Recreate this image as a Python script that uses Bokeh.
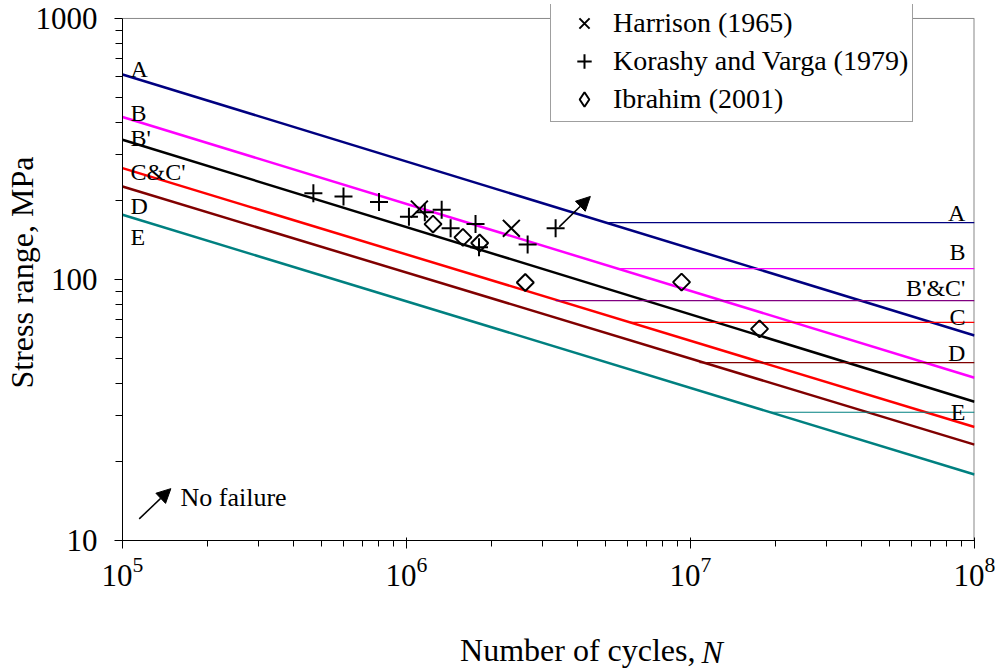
import math
from bokeh.plotting import figure
from bokeh.models import (Legend, LegendItem, Label, Arrow, NormalHead,
                          LogTickFormatter, Range1d, FixedTicker)
from bokeh.core.properties import value
from bokeh.embed import file_html
from bokeh.resources import INLINE

# ---------------- data ----------------
# S-N design curves (slope -1/3), stress range at N = 1e5 and N = 1e8
curve_names = ["A", "B", "B'", "C&C'", "D", "E"]
curve_n = [1e5, 1e8]
curve_s_start = [610, 419, 343, 267, 227, 177]
curve_s_end = [61, 42, 34, 27.2, 23.3, 17.9]
curve_colors = ["#000080", "#FF00FF", "#000000", "#FF0000", "#800000", "#008080"]

# constant amplitude fatigue thresholds
cafl_names = ["A", "B", "B'&C'", "C", "D", "E"]
cafl_s = [165, 110, 83, 68.5, 48, 31]
cafl_n_start = [5.06e6, 5.53e6, 3.35e6, 6.1e6, 1.076e7, 1.91e7]
cafl_colors = ["#000080", "#FF00FF", "#800080", "#FF0000", "#800000", "#008080"]

# test data
harrison_n = [1.11e6, 2.34e6]
harrison_s = [186, 157]

korashy_n = [4.70e5, 6.00e5, 8.0e5, 1.02e6, 1.16e6, 1.33e6, 1.43e6, 1.75e6,
             1.80e6, 2.67e6, 3.35e6]
korashy_s = [214, 208, 198, 174, 181, 185, 157, 163, 133, 136, 157]

ibrahim_n = [1.24e6, 1.58e6, 1.81e6, 2.62e6, 9.3e6, 1.75e7]
ibrahim_s = [163, 145, 138, 97.4, 97.7, 64.7]

# axis ticks
x_major = [1e5, 1e6, 1e7, 1e8]
x_minor = [m * 10 ** e for e in (5, 6, 7) for m in range(2, 10)]
y_major = [10, 100, 1000]
y_minor = [m * 10 ** e for e in (1, 2) for m in range(2, 10)]

# run-out arrow (no failure) and key arrow
runout_arrow = (3.45e6, 159, 4.44e6, 208)
key_arrow = (1.145e5, 12.1, 1.48e5, 15.8)

# label positions
left_label_n = 1.067e5
left_label_s = [642, 434, 349, 258, 192, 145]
right_label_n = 9.29e7
right_label_s = [179, 127, 92.6, 71.7, 52.1, 31.0]
nofail_pos = (1.6e5, 14.6)

FONT = "Liberation Serif"

# frame: x 120..972 px, y 4..540 px (1000 MPa sits at y = 18 px)
p = figure(frame_width=852, frame_height=536,
           x_axis_type="log", y_axis_type="log",
           x_range=Range1d(1e5, 1e8), y_range=Range1d(10, 1131),
           output_backend="svg", toolbar_location=None,
           min_border_left=120, min_border_right=20,
           min_border_top=4, min_border_bottom=130)
p.extra_y_ranges = {"key": Range1d(1e6, 1e7)}
p.xgrid.visible = False
p.ygrid.visible = False
p.outline_line_color = None
p.background_fill_color = "white"
p.border_fill_color = "white"

# axes
for ax in (p.xaxis[0], p.yaxis[0]):
    ax.axis_line_color = "black"
    ax.major_tick_line_color = "black"
    ax.minor_tick_line_color = "black"
    ax.major_label_text_font = FONT
    ax.major_label_text_color = "black"
    ax.major_label_text_font_size = "31px"

p.xaxis[0].ticker = FixedTicker(ticks=x_major, minor_ticks=x_minor)
p.xaxis[0].major_tick_in = 3
p.xaxis[0].major_tick_out = 8
p.xaxis[0].minor_tick_in = 0
p.xaxis[0].minor_tick_out = 6
p.xaxis[0].major_label_standoff = 8

p.yaxis[0].ticker = FixedTicker(ticks=y_major, minor_ticks=y_minor)
p.yaxis[0].bounds = (10, 1000)
p.yaxis[0].major_tick_in = 0
p.yaxis[0].major_tick_out = 8
p.yaxis[0].minor_tick_in = 0
p.yaxis[0].minor_tick_out = 7
p.yaxis[0].major_label_standoff = 17
p.yaxis[0].formatter = LogTickFormatter(min_exponent=4)
p.yaxis[0].axis_label = "Stress range, MPa"
p.yaxis[0].axis_label_text_font = FONT
p.yaxis[0].axis_label_text_font_style = "normal"
p.yaxis[0].axis_label_text_font_size = "32px"
p.yaxis[0].axis_label_text_color = "black"
p.yaxis[0].axis_label_standoff = -7

# grey plot-area border (top at 1000, right at 1e8)
p.line([1e5, 1e8], [1000, 1000], line_color="#888888", line_width=1)
p.line([1e8, 1e8], [10, 1000], line_color="#888888", line_width=2)

# sloped curves
for name, s0, s1, c in zip(curve_names, curve_s_start, curve_s_end, curve_colors):
    p.line(curve_n, [s0, s1], line_color=c, line_width=2.5)

# thresholds
for name, s, n0, c in zip(cafl_names, cafl_s, cafl_n_start, cafl_colors):
    p.line([n0, 1e8], [s, s], line_color=c, line_width=1.2)

# curve labels
p.text(x=[left_label_n] * len(curve_names), y=left_label_s, text=curve_names,
       text_font=value(FONT), text_font_size="24px", text_color="black",
       text_align="left", text_baseline="middle")
p.text(x=[right_label_n] * len(cafl_names), y=right_label_s, text=cafl_names,
       text_font=value(FONT), text_font_size="24px", text_color="black",
       text_align="right", text_baseline="middle")

# test data
r_h = p.scatter(harrison_n, harrison_s, marker="x", size=24,
                line_color="black", line_width=2)
r_k = p.scatter(korashy_n, korashy_s, marker="cross", size=18,
                line_color="black", line_width=2)
r_i = p.scatter(ibrahim_n, ibrahim_s, marker="square", angle=math.pi / 4,
                size=12, line_color="black", line_width=2, fill_alpha=0)
# legend swatch for the diamonds (same data on an off-screen range)
r_i_key = p.scatter(ibrahim_n, ibrahim_s, marker="diamond", size=16,
                    line_color="black", line_width=2, fill_alpha=0,
                    y_range_name="key")

# arrows
p.add_layout(Arrow(end=NormalHead(size=14, fill_color="black", line_color="black"),
                   x_start=runout_arrow[0], y_start=runout_arrow[1],
                   x_end=runout_arrow[2], y_end=runout_arrow[3],
                   line_width=1.5, line_color="black"))
p.add_layout(Arrow(end=NormalHead(size=14, fill_color="black", line_color="black"),
                   x_start=key_arrow[0], y_start=key_arrow[1],
                   x_end=key_arrow[2], y_end=key_arrow[3],
                   line_width=1.5, line_color="black"))
p.add_layout(Label(x=nofail_pos[0], y=nofail_pos[1], text="No failure",
                   text_font=FONT, text_font_size="26px", text_color="black",
                   text_align="left", text_baseline="middle"))

# x axis title: "Number of cycles, N" with italic N (side-panel labels)
p.add_layout(Label(x=573, y=-25, x_units="screen", y_units="screen",
                   text="Number of cycles,", text_font=FONT,
                   text_font_size="32px", text_color="black",
                   text_align="right", text_baseline="middle"), "below")
p.add_layout(Label(x=-273, y=-111, x_units="screen", y_units="screen",
                   text="N", text_font=FONT, text_font_style="italic",
                   text_font_size="32px", text_color="black",
                   text_align="left", text_baseline="middle"), "right")

legend = Legend(items=[LegendItem(label="Harrison (1965)", renderers=[r_h]),
                       LegendItem(label="Korashy and Varga (1979)", renderers=[r_k]),
                       LegendItem(label="Ibrahim (2001)", renderers=[r_i_key])],
                location=(428, 418), label_text_font=FONT,
                label_text_font_size="28px", label_text_color="black",
                border_line_color="#404040", border_line_width=1,
                padding=4, spacing=2, label_height=36, glyph_height=36,
                glyph_width=58, label_standoff=0, margin=0,
                background_fill_color="white", background_fill_alpha=1)
p.add_layout(legend)

open("out.html", "w").write(file_html(p, INLINE))
